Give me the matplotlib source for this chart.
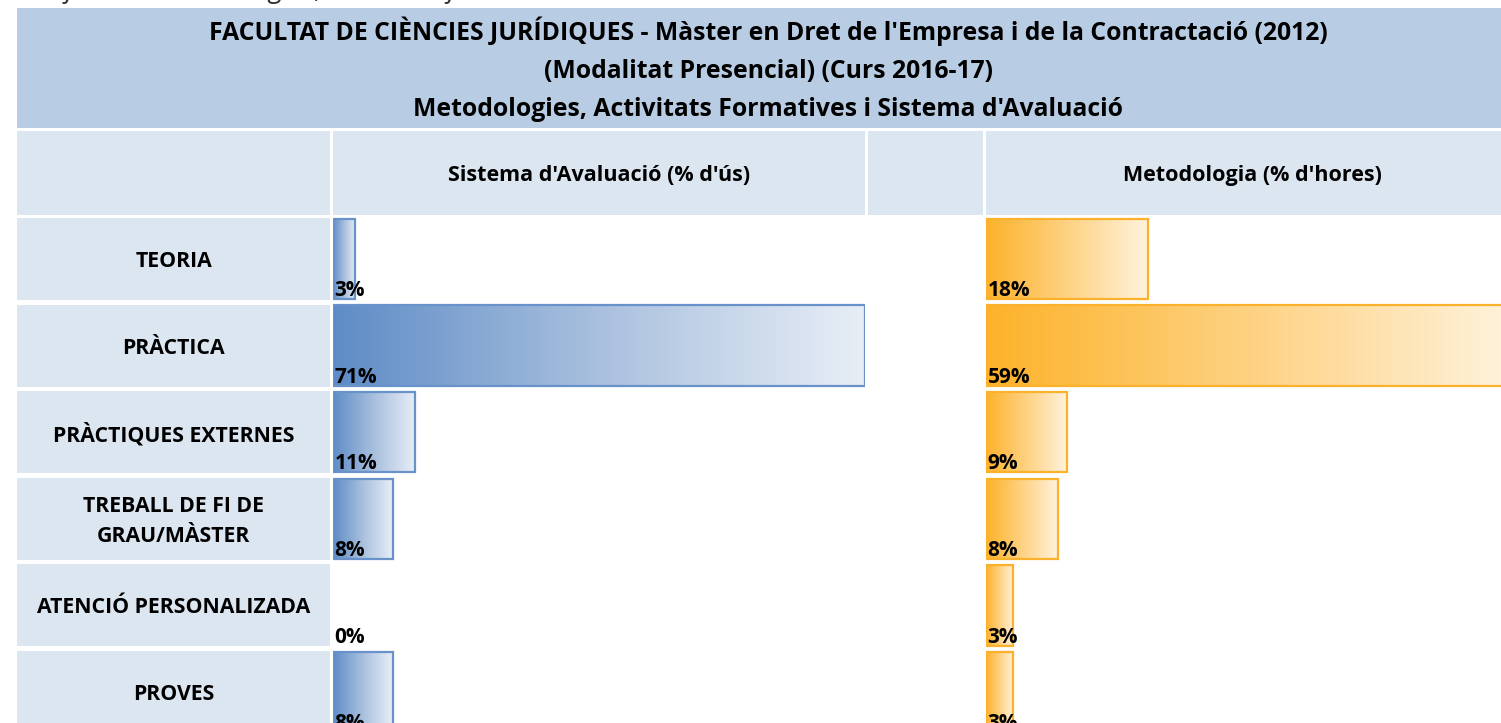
import numpy as np
import matplotlib
matplotlib.use("Agg")
import matplotlib.pyplot as plt
from matplotlib.colors import LinearSegmentedColormap
from matplotlib.patches import Rectangle

# ---- data -------------------------------------------------------------
categories = ["TEORIA", "PRÀCTICA", "PRÀCTIQUES EXTERNES",
              "TREBALL DE FI DE\nGRAU/MÀSTER", "ATENCIÓ PERSONALIZADA", "PROVES"]
avaluacio_pct = [3, 71, 11, 8, 0, 8]       # Sistema d'Avaluació (% d'ús)
metodologia_pct = [18, 59, 9, 8, 3, 3]     # Metodologia (% d'hores)

title_lines = ["FACULTAT DE CIÈNCIES JURÍDIQUES - Màster en Dret de l'Empresa i de la Contractació (2012)",
               "(Modalitat Presencial) (Curs 2016-17)",
               "Metodologies, Activitats Formatives i Sistema d'Avaluació"]
col_headers = ["Sistema d'Avaluació (% d'ús)", "Metodologia (% d'hores)"]
caption = "Gràfic 3.7. Metodologies, activitats formatives i sistema d'avaluació"

# ---- styling ----------------------------------------------------------
FONT = "Open Sans"
plt.rcParams["font.family"] = [FONT, "DejaVu Sans"]
BAND = "#b8cce4"
CELL = "#dce6f1"
blue_cmap = LinearSegmentedColormap.from_list("blue", ["#5e8cc6", "#a9c0de", "#e8eef6"])
orange_cmap = LinearSegmentedColormap.from_list("orange", ["#fdb22a", "#fed283", "#fff3de"])
BLUE_EDGE = "#6892c9"
ORANGE_EDGE = "#fbb12c"

W, H = 1501, 723
fig = plt.figure(figsize=(W / 100, H / 100), dpi=100)


def px_axes(x0, y0, x1, y1):
    """Axes placed by pixel box (top-left origin)."""
    return fig.add_axes([x0 / W, 1 - y1 / H, (x1 - x0) / W, (y1 - y0) / H])


# background: header band, column header cells, caption
bg = px_axes(0, 0, W, H)
bg.set_xlim(0, W)
bg.set_ylim(H, 0)
bg.axis("off")
bg.add_patch(Rectangle((17, 8), W, 120, facecolor=BAND, edgecolor="none"))
for x0, x1 in [(17, 330), (333, 865), (868, 983), (986, W + 20)]:
    bg.add_patch(Rectangle((x0, 131), x1 - x0, 84, facecolor=CELL, edgecolor="none"))

bg.text(20, -3, caption, fontsize=20, style="italic", color="#333333",
        ha="left", va="baseline")
for k, line in enumerate(title_lines):
    bg.text(768, 40.5 + 38 * k, line, fontsize=17.8, fontweight="bold",
            ha="center", va="baseline", color="black")
bg.text(599, 181, col_headers[0], fontsize=15.5, fontweight="bold", ha="center", va="baseline")
bg.text(1252, 181, col_headers[1], fontsize=15.5, fontweight="bold", ha="center", va="baseline")

# row grid shared by the label column and both bar panels
PITCH = 86.6
ROW_TOP = 259 - PITCH / 2
ROW_BOT = ROW_TOP + PITCH * len(categories)
n = len(categories)
ypos = np.arange(n)

lab = px_axes(17, ROW_TOP, 330, ROW_BOT)
lab.set_xlim(0, 1)
lab.set_ylim(n - 0.5, -0.5)
lab.axis("off")
lab.barh(ypos, 1, height=0.947, color=CELL, edgecolor="none")
for i, name in enumerate(categories):
    lab.text(0.5, i + 0.03, name, fontsize=15.3, fontweight="bold", ha="center", va="center",
             linespacing=1.6)


def bar_panel(x0, x1, values, xmax, cmap, edge):
    ax = px_axes(x0, ROW_TOP, x1, ROW_BOT)
    ax.axis("off")
    h = 0.93
    for i, v in enumerate(values):
        if v > 0:
            ax.imshow(np.linspace(0, 1, 256)[None, :], cmap=cmap, aspect="auto",
                      extent=(0, v, i + h / 2, i - h / 2), interpolation="bilinear", zorder=1)
    ax.barh(ypos, values, height=h, facecolor="none",
            edgecolor=[edge if v > 0 else "none" for v in values], linewidth=1.6, zorder=2)
    for i, v in enumerate(values):
        ax.annotate(f"{v}%", (0, i + h / 2 - 0.035), xytext=(1.2, 0), textcoords="offset points",
                    ha="left", va="baseline", fontsize=15, fontweight="bold", zorder=3)
    ax.set_xlim(0, xmax)
    ax.set_ylim(n - 0.5, -0.5)
    return ax


bar_panel(333, 865, avaluacio_pct, 71.0, blue_cmap, BLUE_EDGE)
bar_panel(986, W, metodologia_pct, 57.2, orange_cmap, ORANGE_EDGE)

fig.savefig("out.png", dpi=100, facecolor="white")
